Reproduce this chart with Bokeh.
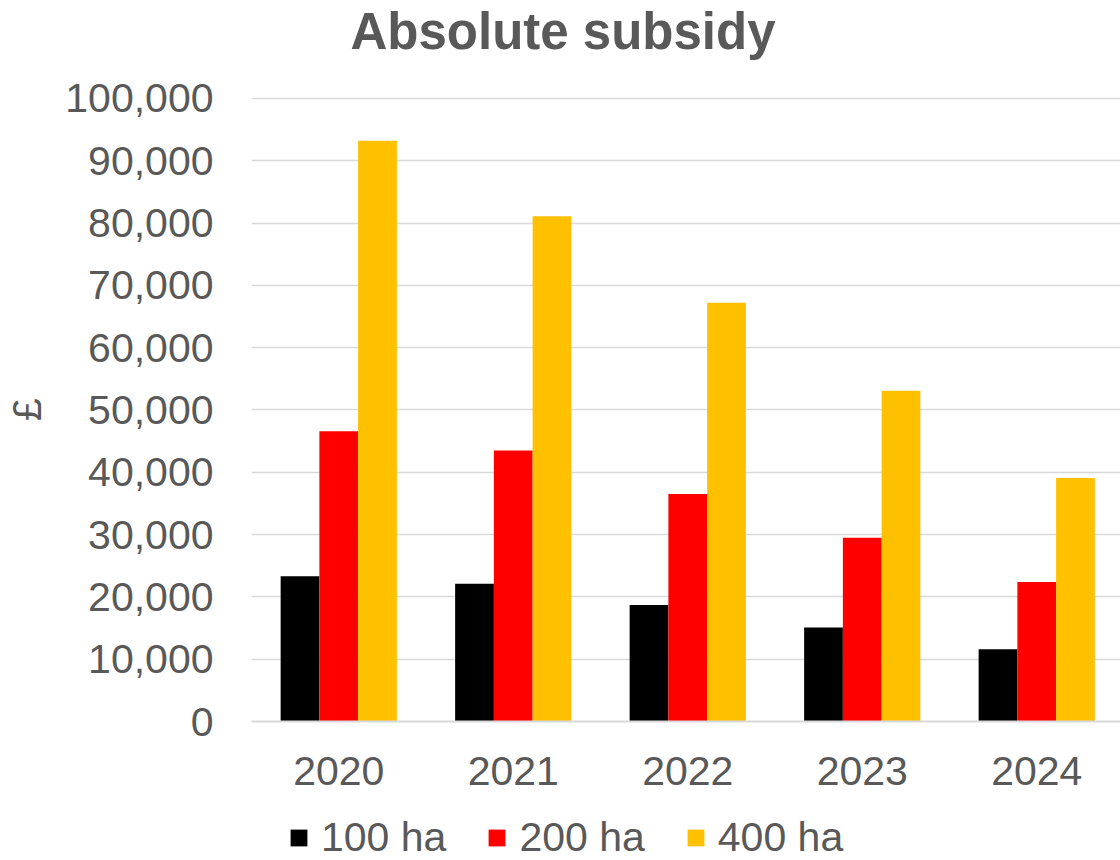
from bokeh.plotting import figure
from bokeh.layouts import column
from bokeh.models import (ColumnDataSource, Range1d, FixedTicker, NumeralTickFormatter,
                          Legend, LegendItem, Title)
from bokeh.transform import dodge
from bokeh.embed import file_html
from bokeh.resources import INLINE

years = ["2020", "2021", "2022", "2023", "2024"]
ha100 = [23300, 22100, 18700, 15100, 11600]
ha200 = [46600, 43500, 36500, 29500, 22400]
ha400 = [93200, 81100, 67200, 53100, 39100]
series = ["100 ha", "200 ha", "400 ha"]
colors = ["#000000", "#FF0000", "#FFC000"]
y_ticks = list(range(0, 100001, 10000))

FONT = "Liberation Sans"
GREY = "#595959"

idx = list(range(len(years)))
src = ColumnDataSource(dict(x=idx, a=ha100, b=ha200, c=ha400))
cols = ["a", "b", "c"]
bw = 0.222
offsets = [-bw, 0, bw]

p = figure(frame_width=869, frame_height=624, output_backend="svg", toolbar_location=None,
           x_range=Range1d(-0.5, 4.48), y_range=Range1d(0, 100160), title=None,
           min_border_left=251, min_border_right=0, min_border_top=96,
           min_border_bottom=90, outline_line_color=None)

for col, off, color in zip(cols, offsets, colors):
    p.vbar(x=dodge("x", off), top=col, width=bw, source=src,
           fill_color=color, line_color=None)

# title (spacer title added first sits next to the frame)
p.add_layout(Title(text=" ", text_font_size="10px", standoff=25), "above")
p.add_layout(Title(text="Absolute subsidy", text_font=FONT, text_font_size="51px",
                   text_font_style="bold", text_color=GREY, align="left",
                   offset=99, standoff=0), "above")

# axes
p.xaxis.ticker = FixedTicker(ticks=idx)
p.xaxis.major_label_overrides = {i: y for i, y in zip(idx, years)}
p.yaxis.ticker = FixedTicker(ticks=y_ticks)
p.yaxis.formatter = NumeralTickFormatter(format="0,0")
for ax in (p.xaxis[0], p.yaxis[0]):
    ax.major_label_text_font = FONT
    ax.major_label_text_font_size = "41px"
    ax.major_label_text_color = GREY
    ax.major_tick_line_color = None
    ax.minor_tick_line_color = None
    ax.major_tick_out = 0
    ax.minor_tick_out = 0
p.xaxis.axis_line_color = "#D9D9D9"
p.xaxis.axis_line_width = 2
p.xaxis.major_label_standoff = 35
p.yaxis.axis_line_color = None
p.yaxis.major_label_standoff = 38
p.yaxis.axis_label = "£"
p.yaxis.axis_label_text_font = FONT
p.yaxis.axis_label_text_font_size = "41px"
p.yaxis.axis_label_text_font_style = "normal"
p.yaxis.axis_label_text_color = GREY
p.yaxis.axis_label_standoff = 12

p.xgrid.grid_line_color = None
p.ygrid.grid_line_color = "#D9D9D9"
p.ygrid.grid_line_width = 1.5

# legend strip (its frame is aligned with the chart frame by the column layout);
# the same series are attached there as hidden renderers so only the legend shows
leg = figure(width=1120, height=50, output_backend="svg", toolbar_location=None,
             x_axis_type=None, y_axis_type=None, x_range=Range1d(20, 21),
             y_range=Range1d(0, 1), min_border=0, outline_line_color=None)
leg_renderers = [leg.vbar(x=dodge("x", off), top=col, width=bw, source=src,
                          fill_color=c, line_color=None, visible=False)
                 for col, off, c in zip(cols, offsets, colors)]
legend = Legend(items=[LegendItem(label=s, renderers=[r]) for s, r in zip(series, leg_renderers)],
                orientation="horizontal", location=(37, 0),
                glyph_width=21, glyph_height=21, label_text_font=FONT,
                label_text_font_size="41px", label_text_color=GREY,
                label_standoff=12, spacing=40, padding=0, margin=0,
                border_line_color=None, background_fill_alpha=0,
                inactive_fill_alpha=0)
leg.add_layout(legend, "center")

layout = column(p, leg, spacing=0)
open("out.html", "w").write(file_html(layout, INLINE))
